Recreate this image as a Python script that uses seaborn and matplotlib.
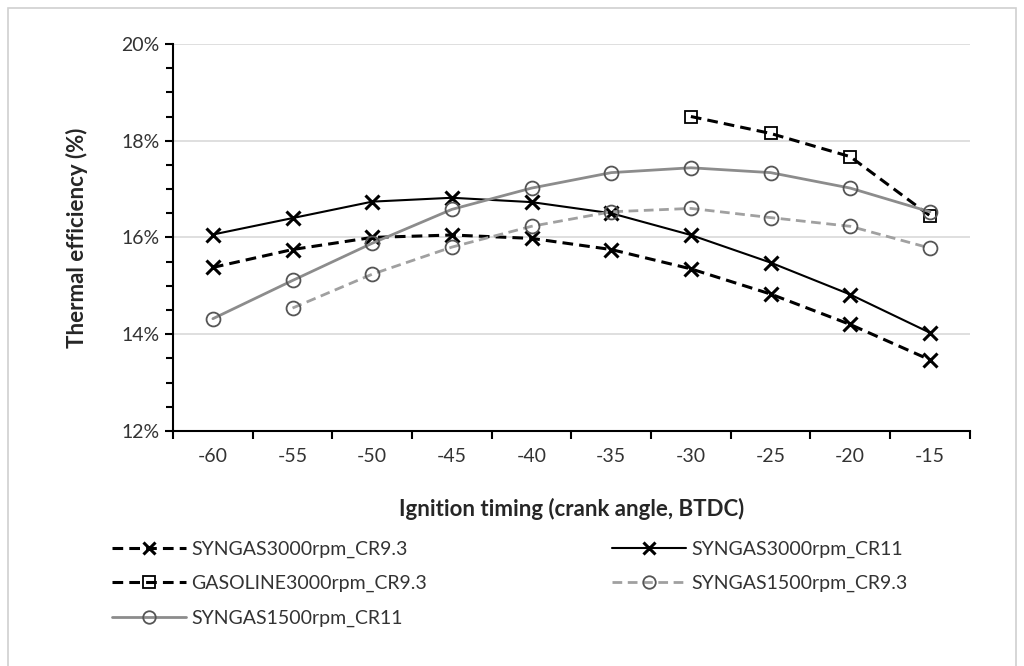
import matplotlib
matplotlib.use("Agg")
import matplotlib.pyplot as plt
import seaborn as sns
import pandas as pd
import numpy as np
from matplotlib.patches import Rectangle
from matplotlib.ticker import MultipleLocator, FixedLocator, FuncFormatter
from matplotlib.lines import Line2D

timing = [-60, -55, -50, -45, -40, -35, -30, -25, -20, -15]
syngas3000_cr93 = [15.38, 15.75, 16.00, 16.05, 15.98, 15.75, 15.35, 14.83, 14.20, 13.47]
syngas3000_cr11 = [16.06, 16.40, 16.74, 16.82, 16.73, 16.50, 16.05, 15.48, 14.82, 14.03]
gasoline_timing = [-30, -25, -20, -15]
gasoline3000_cr93 = [18.50, 18.15, 17.67, 16.45]
syngas1500_timing = [-55, -50, -45, -40, -35, -30, -25, -20, -15]
syngas1500_cr93 = [14.54, 15.24, 15.80, 16.23, 16.53, 16.60, 16.41, 16.23, 15.78]
syngas1500_cr11 = [14.32, 15.11, 15.88, 16.58, 17.02, 17.34, 17.44, 17.34, 17.02, 16.53]

sns.set_theme(style="white")
plt.rcParams['font.family'] = ['Lato', 'DejaVu Sans']

fig = plt.figure(figsize=(10.24, 6.66), dpi=100)
ax = fig.add_axes([0.169, 0.353, 0.778, 0.581])

series = [
    ("SYNGAS3000rpm_CR9.3", timing, syngas3000_cr93, "black", (0, (3.5, 2)), "x", 2.2),
    ("SYNGAS3000rpm_CR11", timing, syngas3000_cr11, "black", "-", "x", 1.5),
    ("GASOLINE3000rpm_CR9.3", gasoline_timing, gasoline3000_cr93, "black", (0, (3.5, 2)), "s", 2.2),
    ("SYNGAS1500rpm_CR9.3", syngas1500_timing, syngas1500_cr93, "#a0a0a0", (0, (3.5, 2)), "o", 2.0),
    ("SYNGAS1500rpm_CR11", timing, syngas1500_cr11, "#8c8c8c", "-", "o", 2.0),
]

handles = {}
for name, xs, ys, color, ls, mk, lw in series:
    df = pd.DataFrame({"x": xs, "y": ys})
    sns.lineplot(data=df, x="x", y="y", ax=ax, color=color, linewidth=lw, linestyle=ls,
                 marker=mk, markersize=10 if mk != "s" else 9,
                 markerfacecolor="none" if mk != "x" else color,
                 markeredgecolor="black" if mk != "o" else "#555555",
                 markeredgewidth=2.2 if mk == "x" else 1.3, legend=False)
    handles[name] = Line2D([], [], color=color, linewidth=lw, linestyle=ls, marker=mk,
                           markersize=9 if mk != "s" else 8,
                           markerfacecolor="none" if mk != "x" else color,
                           markeredgecolor="black" if mk != "o" else "#555555",
                           markeredgewidth=2.2 if mk == "x" else 1.3)

ax.set_xlim(-62.5, -12.5)
ax.set_ylim(12, 20)
ax.set_xticks(timing)
ax.set_xticklabels([str(t) for t in timing])
ax.xaxis.set_minor_locator(FixedLocator(np.arange(-62.5, -12.0, 5)))
ax.yaxis.set_major_locator(MultipleLocator(2))
ax.yaxis.set_minor_locator(MultipleLocator(0.5))
ax.yaxis.set_major_formatter(FuncFormatter(lambda v, p: f"{v:.0f}%"))
ax.grid(axis="y", which="major", color="#d9d9d9", linewidth=1.2)
ax.set_axisbelow(True)
for s in ["top", "right"]:
    ax.spines[s].set_visible(False)
for s in ["left", "bottom"]:
    ax.spines[s].set_color("black")
    ax.spines[s].set_linewidth(1.5)
ax.tick_params(axis="x", which="major", length=0, pad=12, labelsize=14, colors="#333333")
ax.tick_params(axis="x", which="minor", bottom=True, length=6, width=1.5, color="black", direction="out")
ax.tick_params(axis="y", which="major", left=True, length=6, width=1.5, color="black", direction="out", labelsize=14, labelcolor="#333333")
ax.tick_params(axis="y", which="minor", left=True, length=5, width=1.5, color="black", direction="out")

ax.set_xlabel("Ignition timing (crank angle, BTDC)", fontsize=16, fontweight="bold", labelpad=24)
ax.set_ylabel("Thermal efficiency (%)", fontsize=16, fontweight="bold", labelpad=24)

order = ["SYNGAS3000rpm_CR9.3", "GASOLINE3000rpm_CR9.3", "SYNGAS1500rpm_CR11",
         "SYNGAS3000rpm_CR11", "SYNGAS1500rpm_CR9.3"]
fig.legend([handles[n] for n in order], order, ncol=2, loc="upper left",
           bbox_to_anchor=(0.092, 0.215), frameon=False, fontsize=14,
           handlelength=3.8, handletextpad=0.3, columnspacing=9.5, labelspacing=0.9,
           labelcolor="#333333")

fig.patches.append(Rectangle((0.008, -0.01), 0.984, 0.998, transform=fig.transFigure,
                             fill=False, edgecolor="#d0d0d0", linewidth=1.2))

fig.savefig("out.png", dpi=100)
